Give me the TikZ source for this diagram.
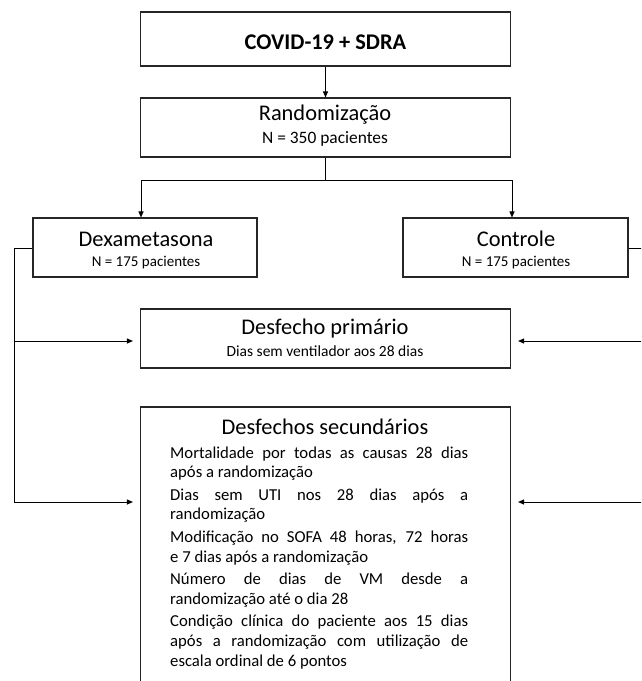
\documentclass[tikz,border=0pt]{standalone}
\usepackage{fontspec}
\setmainfont{Carlito}
\usetikzlibrary{arrows.meta,calc}
\begin{document}
\begin{tikzpicture}[x=1pt,y=-1pt,
  box/.style={draw=black!85, line width=1.1pt, inner sep=0pt, fill=none},
  wire/.style={draw=black, line width=0.9pt},
  arr/.style={wire, -{Triangle[length=6pt,width=5pt]}},
  harr/.style={arr, shorten >=7pt},
  ttl/.style={anchor=base, inner sep=0pt, font=\fontsize{22.4}{26}\selectfont},
  sub/.style={anchor=base, inner sep=0pt, font=\fontsize{15}{18}\selectfont},
  body/.style={anchor=base west, inner sep=0pt, font=\fontsize{16.7}{19.6}\selectfont}]
\useasboundingbox (0,0) rectangle (641,681);
\clip (0,0) rectangle (641,681);
% boxes
\node[box, minimum width=370pt, minimum height=54pt] (covid) at (325.5,39) {};
\node[box, minimum width=370pt, minimum height=59pt] (rand) at (325.5,127.5) {};
\node[box, minimum width=224pt, minimum height=59pt] (dex) at (145,247.5) {};
\node[box, minimum width=225pt, minimum height=59pt] (ctrl) at (515.5,247.5) {};
\node[box, minimum width=370pt, minimum height=59pt] (prim) at (325.5,338.5) {};
\node[box, minimum width=370pt, minimum height=293pt] (sec) at (325.5,553.5) {};
% texts
\node[ttl, font=\fontsize{22.4}{26}\selectfont\bfseries] (covidt) at (325.5,49) {COVID-19 + SDRA};
\node[ttl] (randt) at (325,120) {Randomização};
\node[sub, font=\fontsize{17.4}{20}\selectfont] (randn) at (325,143) {N = 350 pacientes};
\node[ttl] (dext) at (146,246) {Dexametasona};
\node[sub] (dexn) at (146,266) {N = 175 pacientes};
\node[ttl] (ctrlt) at (516,246) {Controle};
\node[sub] (ctrln) at (516,266) {N = 175 pacientes};
\node[ttl] (primt) at (325,334) {Desfecho primário};
\node[sub, font=\fontsize{15.5}{18}\selectfont] (primn) at (325,356) {Dias sem ventilador aos 28 dias};
\node[ttl] (sect) at (325,434) {Desfechos secundários};
\node[body] (s1) at (170,458) {\makebox[298pt][s]{Mortalidade por todas as causas 28 dias}};
\node[body] (s2) at (170,477.6) {após a randomização};
\node[body] (s3) at (170,500.2) {\makebox[298pt][s]{Dias sem UTI nos 28 dias após a}};
\node[body] (s4) at (170,519.8) {randomização};
\node[body] (s5) at (170,542.4) {\makebox[298pt][s]{Modificação no SOFA 48 horas, 72 horas}};
\node[body] (s6) at (170,562) {e 7 dias após a randomização};
\node[body] (s7) at (170,584.6) {\makebox[298pt][s]{Número de dias de VM desde a}};
\node[body] (s8) at (170,604.2) {randomização até o dia 28};
\node[body] (s9) at (170,626.8) {\makebox[298pt][s]{Condição clínica do paciente aos 15 dias}};
\node[body] (s10) at (170,646.4) {\makebox[298pt][s]{após a randomização com utilização de}};
\node[body] (s11) at (170,666) {escala ordinal de 6 pontos};
% connectors
\coordinate (split) at (325.5,180);
\coordinate (sl) at (141,180);
\coordinate (sr) at (512,180);
\draw[arr] (covid.south) -- (rand.north);
\draw[wire] (rand.south) -- (split);
\draw[wire] (sl) -- (sr);
\draw[arr] (sl) -- (sl |- dex.north);
\draw[arr] (sr) -- (sr |- ctrl.north);
\coordinate (lt) at (14,248.5);
\coordinate (lp) at (14,341);
\coordinate (lb) at (14,502);
\draw[wire] (dex.west |- lt) -- (lt) -- (lb);
\draw[harr] (lp) -- (lp -| prim.west);
\draw[harr] (lb) -- (lb -| sec.west);
\coordinate (rt) at (648,248.5);
\coordinate (rp) at (648,341);
\coordinate (rb) at (648,502);
\draw[wire] (ctrl.east |- rt) -- (rt) -- (rb);
\draw[harr] (rp) -- (rp -| prim.east);
\draw[harr] (rb) -- (rb -| sec.east);
\end{tikzpicture}
\end{document}
